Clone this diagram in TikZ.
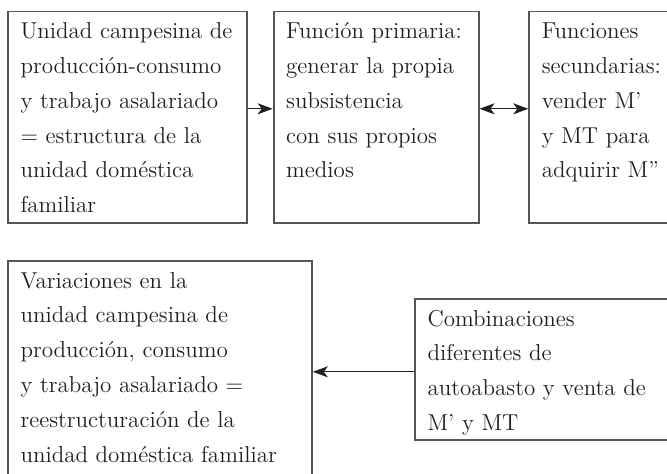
\documentclass[tikz,border=0pt]{standalone}
\usepackage{fontspec}
\usetikzlibrary{arrows.meta}
\definecolor{boxline}{HTML}{555555}
\definecolor{boxtext}{HTML}{231F20}

\begin{document}
\begin{tikzpicture}[x=0.5pt, y=-0.5pt,
	box/.style={draw=boxline, line width=0.9pt, anchor=north west, align=left, inner xsep=6.3pt, inner ysep=0pt, text=boxtext, font=\fontsize{11.5}{17.4}\selectfont, text height=13.6pt},
	link/.style={draw=boxtext, line width=0.65pt, -{Stealth[length=7.5pt, width=5.5pt, inset=2pt]}},
	twolink/.style={draw=boxtext, line width=0.65pt, {Stealth[length=7.5pt, width=5.5pt, inset=2pt]}-{Stealth[length=7.5pt, width=5.5pt, inset=2pt]}}]
	\clip (0, 0) rectangle (667, 474);
	
	\node [box, text width=106.9pt, text depth=92pt] (unidad) at (7, 10.7) {Unidad campesina de\\producción-consumo\\y trabajo asalariado\\= estructura de la\\unidad doméstica\\familiar};
	\node [box, text width=89.9pt, text depth=92pt] (primaria) at (272.7, 10.7) {Función primaria:\\generar la propia\\subsistencia\\con sus propios\\medios};
	\node [box, text width=80pt, text depth=92pt] (secundarias) at (528.3, 10.7) {Funciones\\secundarias:\\vender M’\\y MT para\\adquirir M”};
	
	\node [box, text width=139.4pt, text depth=110pt] (variaciones) at (7, 260) {Variaciones en la\\unidad campesina de\\producción, consumo\\y trabajo asalariado =\\reestructuración de la\\unidad doméstica familiar};
	\node [box, text width=140pt, text depth=56.9pt] (combinaciones) at (414, 298) {Combinaciones\\diferentes de\\autoabasto y venta de\\M’ y MT};
	
	\draw [link] ([yshift=4.2pt]unidad.east) to ([yshift=4.2pt]unidad.east -| primaria.west);
	\draw [twolink] ([yshift=4.2pt]primaria.east) to ([yshift=4.2pt]primaria.east -| secundarias.west);
	\draw [link] ([yshift=-1.2pt]combinaciones.west) to ([yshift=-1.2pt]combinaciones.west -| variaciones.east);
\end{tikzpicture}
\end{document}
